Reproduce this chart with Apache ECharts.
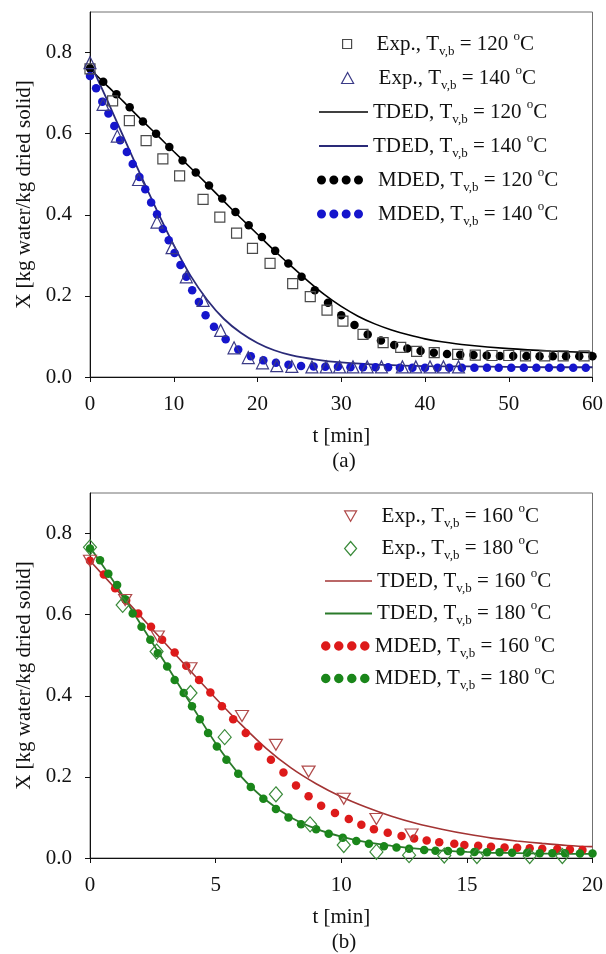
<!DOCTYPE html>
<html>
<head>
<meta charset="utf-8">
<script src="https://cdn.jsdelivr.net/npm/echarts@6.0.0/dist/echarts.min.js"></script>
<style>
html,body{margin:0;padding:0;background:#fff;}
#c{width:606px;height:954px;}
</style>
</head>
<body>
<div id="c"></div>
<script>
// ---------- DATA ----------
// Panel (a)
var exp120T = [0,2.7,4.7,6.7,8.7,10.7,13.5,15.5,17.5,19.4,21.5,24.2,26.3,28.3,30.2,32.6,35.0,37.1,39.0,41.1,43.9,46.0,48.0,50.0,52.0,54.3,56.5,59.0];
var exp120X = [0.760,0.681,0.632,0.583,0.538,0.496,0.438,0.394,0.355,0.317,0.280,0.230,0.198,0.165,0.138,0.105,0.085,0.073,0.063,0.060,0.056,0.054,0.053,0.053,0.052,0.052,0.052,0.052];

var exp140T = [0,1.56,3.26,5.8,8.0,9.8,11.5,13.5,15.6,17.2,18.9,20.6,22.3,24.1,26.5,28.2,29.8,31.4,33.1,34.8,37.3,38.9,40.6,42.2,44.0];
var exp140X = [0.775,0.672,0.594,0.487,0.382,0.319,0.247,0.189,0.115,0.072,0.048,0.035,0.028,0.026,0.025,0.025,0.025,0.025,0.025,0.025,0.025,0.025,0.025,0.025,0.025];

var tded120T = [0,2,4,6,8,10,12,14,16,18,20,22,24,26,28,30,32,34,36,38,40,42,45,50,55,60];
var tded120X = [0.760,0.719,0.679,0.637,0.597,0.556,0.516,0.475,0.433,0.392,0.352,0.312,0.274,0.237,0.203,0.174,0.150,0.131,0.116,0.104,0.094,0.087,0.079,0.070,0.064,0.060];

var tded140T = [0,2,4,6,8,10,12,14,16,18,20,22,24,27,30,35,40,45,50,55,60];
var tded140X = [0.775,0.685,0.592,0.500,0.410,0.325,0.250,0.190,0.143,0.109,0.084,0.066,0.054,0.043,0.036,0.030,0.027,0.026,0.025,0.024,0.024];

var mded120T = [0,1.58,3.16,4.74,6.32,7.89,9.47,11.05,12.63,14.21,15.79,17.37,18.95,20.53,22.11,23.68,25.26,26.84,28.42,30.0,31.58,33.16,34.74,36.32,37.89,39.47,41.05,42.63,44.21,45.79,47.37,48.95,50.53,52.11,53.68,55.26,56.84,58.42,60.0];
var mded120X = [0.761,0.728,0.697,0.665,0.630,0.600,0.567,0.534,0.504,0.472,0.440,0.407,0.374,0.345,0.311,0.280,0.247,0.214,0.183,0.152,0.128,0.105,0.090,0.079,0.070,0.064,0.060,0.057,0.055,0.054,0.053,0.052,0.052,0.052,0.051,0.051,0.051,0.051,0.051];

var mded140T = [0,0.73,1.47,2.2,2.9,3.6,4.4,5.1,5.9,6.6,7.3,8.0,8.7,9.4,10.1,10.8,11.5,12.2,13.0,13.8,14.8,16.2,17.7,19.2,20.7,22.2,23.7,25.2,26.7,28.1,29.6,31.1,32.6,34.1,35.6,37.0,38.5,40.0,41.5,42.9,44.4,45.9,47.4,48.8,50.3,51.8,53.3,54.8,56.2,57.7,59.2];
var mded140X = [0.742,0.712,0.679,0.650,0.619,0.584,0.555,0.525,0.493,0.463,0.430,0.401,0.365,0.337,0.306,0.276,0.247,0.214,0.185,0.152,0.124,0.093,0.068,0.051,0.041,0.035,0.030,0.027,0.026,0.025,0.025,0.024,0.024,0.024,0.024,0.023,0.023,0.023,0.023,0.023,0.023,0.023,0.023,0.023,0.023,0.023,0.023,0.023,0.023,0.023,0.023];

// Panel (b)
var exp160T = [0,1.4,2.7,4.0,6.05,7.4,8.7,10.1,11.4,12.8];
var exp160X = [0.733,0.636,0.546,0.468,0.350,0.279,0.213,0.146,0.096,0.058];

var exp180T = [0,1.3,2.65,4.0,5.36,7.4,8.76,10.1,11.4,12.7,14.1,15.4,17.5,18.8];
var exp180X = [0.766,0.624,0.509,0.407,0.298,0.157,0.083,0.032,0.015,0.007,0.006,0.005,0.005,0.005];

var tded160T = [0,1,2,3,4,5,6,7,8,9,10,11,12,13,14,15,16,17,18,19,20];
var tded160X = [0.733,0.665,0.597,0.529,0.461,0.394,0.330,0.271,0.222,0.183,0.151,0.125,0.103,0.085,0.071,0.059,0.049,0.042,0.036,0.031,0.028];

var tded180T = [0,1,2,3,4,5,6,7,8,9,10,11,12,13,14,15,16,17,18,19,20];
var tded180X = [0.766,0.676,0.578,0.480,0.381,0.283,0.202,0.143,0.100,0.072,0.053,0.039,0.030,0.023,0.018,0.015,0.013,0.012,0.011,0.010,0.010];

var mded160T = [0,0.55,1.0,1.44,1.92,2.43,2.87,3.37,3.83,4.34,4.79,5.25,5.7,6.2,6.7,7.2,7.7,8.2,8.7,9.2,9.75,10.3,10.8,11.3,11.85,12.4,12.9,13.4,13.9,14.5,14.9,15.45,15.96,16.5,17.0,17.5,18.0,18.6,19.1,19.6];
var mded160X = [0.733,0.699,0.665,0.635,0.603,0.570,0.538,0.507,0.474,0.439,0.408,0.374,0.342,0.308,0.275,0.242,0.211,0.179,0.152,0.129,0.111,0.096,0.082,0.071,0.062,0.054,0.048,0.043,0.039,0.035,0.032,0.030,0.028,0.026,0.025,0.024,0.023,0.022,0.021,0.020];

var mded180T = [0,0.4,0.73,1.08,1.4,1.7,2.05,2.4,2.7,3.07,3.37,3.73,4.06,4.37,4.7,5.05,5.43,5.9,6.4,6.9,7.4,7.9,8.4,9.0,9.5,10.06,10.6,11.1,11.7,12.2,12.7,13.3,13.75,14.25,14.75,15.3,15.8,16.3,16.8,17.4,17.9,18.4,18.9,19.5,20.0];
var mded180X = [0.763,0.734,0.701,0.673,0.638,0.603,0.570,0.538,0.505,0.472,0.439,0.407,0.374,0.342,0.308,0.275,0.242,0.208,0.175,0.146,0.121,0.100,0.083,0.071,0.060,0.050,0.042,0.035,0.029,0.026,0.023,0.020,0.018,0.017,0.016,0.015,0.014,0.014,0.013,0.013,0.012,0.012,0.012,0.011,0.011];

// tick labels
var xTicksA = [0,10,20,30,40,50,60];
var xTicksB = [0,5,10,15,20];
var yTicks = [0,0.2,0.4,0.6,0.8];

// legend labels: [series key, prefix, temperature]
var legendA = [['E120','Exp., T','120'],['E140','Exp., T','140'],['T120','TDED, T','120'],['T140','TDED, T','140'],['M120','MDED, T','120'],['M140','MDED, T','140']];
var legendB = [['E160','Exp., T','160'],['E180','Exp., T','180'],['T160','TDED, T','160'],['T180','TDED, T','180'],['M160','MDED, T','160'],['M180','MDED, T','180']];

// ---------- CHART ----------
function zip(t, x) { var n = Math.min(t.length, x.length); var r = []; for (var i = 0; i < n; i++) r.push([t[i], x[i]]); return r; }
var FF = '"Liberation Serif","Times New Roman",serif';
var FS = 21;
var TXT = '#111';

var chart = echarts.init(document.getElementById('c'), null, {renderer: 'canvas'});

var grids = [
  {left: 90, top: 12, width: 508, height: 365, show: true, borderColor: '#707070', borderWidth: 1, backgroundColor: 'transparent'},
  {left: 90, top: 493, width: 508, height: 365, show: true, borderColor: '#707070', borderWidth: 1, backgroundColor: 'transparent'}
];

function xAxisCfg(gi, max, ticks) {
  return {
    gridIndex: gi, type: 'value', min: 0, max: max, interval: ticks[1] - ticks[0],
    axisLine: {show: true, onZero: false, lineStyle: {color: '#111', width: 1}},
    axisTick: {show: true, inside: false, length: 5, lineStyle: {color: '#111', width: 1}},
    axisLabel: {fontFamily: FF, fontSize: FS, color: TXT, margin: 17},
    splitLine: {show: false},
    name: 't [min]', nameLocation: 'middle', nameGap: 49,
    nameTextStyle: {fontFamily: FF, fontSize: FS, color: TXT}
  };
}
function yAxisCfg(gi) {
  return {
    gridIndex: gi, type: 'value', min: 0, max: 0.9,
    axisLine: {show: true, onZero: false, lineStyle: {color: '#111', width: 1}},
    axisTick: {show: true, inside: false, length: 5, customValues: yTicks, lineStyle: {color: '#111', width: 1}},
    axisLabel: {fontFamily: FF, fontSize: FS, color: TXT, margin: 18, customValues: yTicks, formatter: function (v) { return v.toFixed(1); }},
    splitLine: {show: false},
    name: 'X [kg water/kg dried solid]', nameLocation: 'middle', nameGap: 55, nameRotate: 90,
    nameTextStyle: {fontFamily: FF, fontSize: FS, color: TXT}
  };
}

var DOTS = 'path://M0,4.5A4.5,4.5,0,1,0,9,4.5A4.5,4.5,0,1,0,0,4.5ZM12.33,4.5A4.5,4.5,0,1,0,21.33,4.5A4.5,4.5,0,1,0,12.33,4.5ZM24.67,4.5A4.5,4.5,0,1,0,33.67,4.5A4.5,4.5,0,1,0,24.67,4.5ZM37,4.5A4.5,4.5,0,1,0,46,4.5A4.5,4.5,0,1,0,37,4.5Z';
var DOWNTRI = 'path://M0,0L12,0L6,10.4Z';

function expSeries(name, gi, data, symbol, size, color) {
  return {name: name, type: 'scatter', xAxisIndex: gi, yAxisIndex: gi, data: data, symbol: symbol, symbolSize: size,
    itemStyle: {color: 'rgba(255,255,255,0)', borderColor: color, borderWidth: 1.2, opacity: 1}, z: 5, silent: true};
}
function lineSeries(name, gi, data, color, w) {
  return {name: name, type: 'line', xAxisIndex: gi, yAxisIndex: gi, data: data, symbol: 'none', smooth: 0.3,
    lineStyle: {color: color, width: w}, itemStyle: {color: color}, z: 3, silent: true};
}
function dotSeries(name, gi, data, color) {
  return {name: name, type: 'scatter', xAxisIndex: gi, yAxisIndex: gi, data: data, symbol: 'circle', symbolSize: 8.5,
    itemStyle: {color: color, opacity: 1}, z: 4, silent: true};
}

var C = {
  E120: '#4a4a4a', E140: '#3a3a86', T120: '#000000', T140: '#2a2a78', M120: '#000000', M140: '#1515cc',
  E160: '#b04a4a', E180: '#3a8a3a', T160: '#a33434', T180: '#2a7a2a', M160: '#dd1a1a', M180: '#1a861a'
};

var series = [
  lineSeries('T120', 0, zip(tded120T, tded120X), C.T120, 1.6),
  lineSeries('T140', 0, zip(tded140T, tded140X), C.T140, 1.8),
  dotSeries('M120', 0, zip(mded120T, mded120X), C.M120),
  dotSeries('M140', 0, zip(mded140T, mded140X), C.M140),
  expSeries('E120', 0, zip(exp120T, exp120X), 'rect', 10, C.E120),
  expSeries('E140', 0, zip(exp140T, exp140X), 'triangle', 12, C.E140),
  lineSeries('T160', 1, zip(tded160T, tded160X), C.T160, 1.6),
  lineSeries('T180', 1, zip(tded180T, tded180X), C.T180, 1.8),
  dotSeries('M160', 1, zip(mded160T, mded160X), C.M160),
  dotSeries('M180', 1, zip(mded180T, mded180X), C.M180),
  expSeries('E160', 1, zip(exp160T, exp160X), DOWNTRI, [13, 11], C.E160),
  expSeries('E180', 1, zip(exp180T, exp180X), 'diamond', [13, 15], C.E180)
];

var rich = {
  n: {fontFamily: FF, fontSize: FS, color: TXT, lineHeight: 28},
  s: {fontFamily: FF, fontSize: 13, color: TXT, lineHeight: 13, verticalAlign: 'bottom'},
  o: {fontFamily: FF, fontSize: 13, color: TXT, lineHeight: 13, verticalAlign: 'top'},
  p10: {width: 10, lineHeight: 28},
  p20: {width: 20, lineHeight: 28}
};
function legLabel(entry, pad) {
  return (pad ? '{' + pad + '| }' : '') + '{n|' + entry[1] + '}{s|v,b}{n| = ' + entry[2] + ' }{o|o}{n|C}';
}

var legends = [];
function addLegend(entry, left, cy, icon, iw, ih, pad, lineColor) {
  var lg = {
    data: [{name: entry[0], icon: icon}],
    left: left, top: cy - 14, padding: 0, itemGap: 0,
    itemWidth: iw, itemHeight: ih, selectedMode: false,
    formatter: function () { return legLabel(entry, pad); },
    textStyle: {rich: rich, fontFamily: FF, fontSize: FS, color: TXT}
  };
  if (lineColor) {
    lg.itemStyle = {color: lineColor, borderWidth: 0};
  } else {
    lg.itemStyle = {borderWidth: 1.2};
  }
  legends.push(lg);
}
// panel (a)
var rowsA = [44, 78, 112, 146, 180, 214];
addLegend(legendA[0], 342, rowsA[0], 'rect', 9, 9, 'p20');
addLegend(legendA[1], 341, rowsA[1], 'triangle', 12, 11, 'p20');
addLegend(legendA[2], 319, rowsA[2], 'rect', 49, 1.6, null, C.T120);
addLegend(legendA[3], 319, rowsA[3], 'rect', 49, 1.8, null, C.T140);
addLegend(legendA[4], 317, rowsA[4], DOTS, 46, 9, 'p10');
addLegend(legendA[5], 317, rowsA[5], DOTS, 46, 9, 'p10');
// panel (b)
var rowsB = [516, 548.5, 581, 613.5, 646, 678.5];
addLegend(legendB[0], 344, rowsB[0], DOWNTRI, 12, 10.4, 'p20');
addLegend(legendB[1], 344, rowsB[1], 'diamond', 12, 14, 'p20');
addLegend(legendB[2], 325, rowsB[2], 'rect', 47, 1.6, null, C.T160);
addLegend(legendB[3], 325, rowsB[3], 'rect', 47, 1.8, null, C.T180);
addLegend(legendB[4], 321, rowsB[4], DOTS, 49, 9.5, null);
addLegend(legendB[5], 321, rowsB[5], DOTS, 49, 9.5, null);

chart.setOption({
  backgroundColor: '#ffffff',
  animation: false,
  title: [
    {text: '(a)', left: 344, top: 451, textAlign: 'center', padding: 0, textStyle: {fontFamily: FF, fontSize: FS, fontWeight: 'normal', color: TXT}},
    {text: '(b)', left: 344, top: 932, textAlign: 'center', padding: 0, textStyle: {fontFamily: FF, fontSize: FS, fontWeight: 'normal', color: TXT}}
  ],
  grid: grids,
  xAxis: [xAxisCfg(0, 60, xTicksA), xAxisCfg(1, 20, xTicksB)],
  yAxis: [yAxisCfg(0), yAxisCfg(1)],
  legend: legends,
  series: series
});
</script>
</body>
</html>
